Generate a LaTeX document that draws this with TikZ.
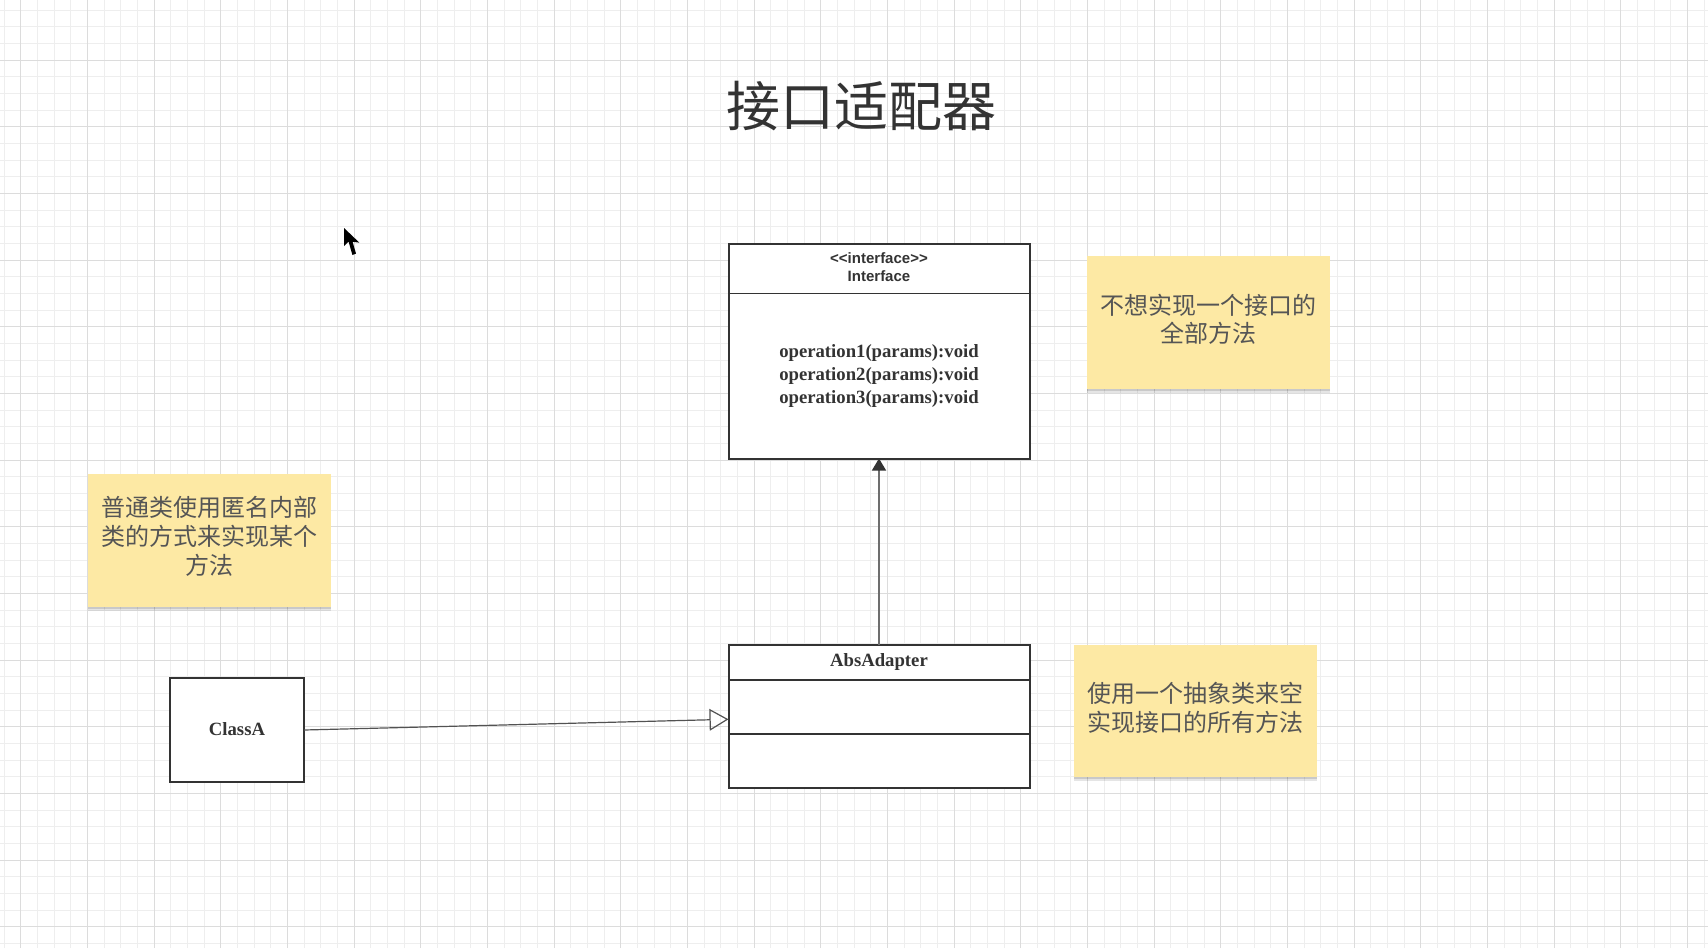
\documentclass[tikz,border=0pt]{standalone}
\usepackage{fontspec}
\setmainfont{Liberation Serif}
\newfontfamily\cjk{Noto Sans CJK SC}
\newfontfamily\arialf{Liberation Sans}
\usetikzlibrary{arrows.meta,shadows}
\definecolor{gridminor}{RGB}{238,238,238}
\definecolor{gridmajor}{RGB}{220,220,220}
\definecolor{notefill}{RGB}{253,233,164}
\definecolor{boxline}{RGB}{51,51,51}
\definecolor{txt}{RGB}{51,51,51}
\definecolor{notetxt}{RGB}{85,85,85}
\definecolor{connline}{RGB}{110,110,110}
\begin{document}
\begin{tikzpicture}[x=1pt,y=-1pt,
  umlbox/.style={draw=boxline, line width=2pt, fill=white, inner sep=0pt, outer sep=0pt},
  divider/.style={draw=boxline, line width=1.6pt},
  serifbold/.style={font=\bfseries\fontsize{18.7}{22.7}\selectfont, text=txt, align=center, inner sep=0pt},
  stickynote/.style={fill=notefill, draw=none, inner sep=0pt, outer sep=0pt,
     drop shadow={shadow xshift=0pt, shadow yshift=-4pt, opacity=0.10, fill=black},
     drop shadow={shadow xshift=0pt, shadow yshift=-2pt, opacity=0.12, fill=black}},
  notetext/.style={font=\cjk\fontsize{24}{28.7}\selectfont, text=notetxt, align=center, inner sep=0pt},
  conn/.style={draw=connline, line width=1.3pt}
]
\useasboundingbox (0,0) rectangle (1708,948);
\fill[white] (0,0) rectangle (1708,948);
% grid
\foreach \i in {0,...,102} \draw[gridminor, line width=1pt] ({4.03+\i*16.667},0) -- ({4.03+\i*16.667},948);
\foreach \j in {0,...,56} \draw[gridminor, line width=1pt] (0,{10.3+\j*16.667}) -- (1708,{10.3+\j*16.667});
\foreach \i in {0,...,25} \draw[gridmajor, line width=1pt] ({20.7+\i*66.667},0) -- ({20.7+\i*66.667},948);
\foreach \j in {0,...,13} \draw[gridmajor, line width=1pt] (0,{60.3+\j*66.667}) -- (1708,{60.3+\j*66.667});

% title
\node[font=\cjk\fontsize{54}{60}\selectfont, text=txt, inner sep=0pt] (title) at (861,106) {接口适配器};

% interface box
\node[umlbox, minimum width=301pt, minimum height=214.5pt] (iface) at (879,351.25) {};
\draw[divider] (728.5,293.5) -- (1029.5,293.5);
\node[font=\arialf\bfseries\fontsize{15}{17}\selectfont, text=txt, inner sep=0pt] (stereo) at (879,258.5) {<<interface>>};
\node[font=\arialf\bfseries\fontsize{15}{17}\selectfont, text=txt, inner sep=0pt] (ifname) at (879,276) {Interface};
\node[serifbold] (ops) at (879,376) {operation1(params):void\\operation2(params):void\\operation3(params):void};

% AbsAdapter box
\node[umlbox, minimum width=301pt, minimum height=142.5pt] (abs) at (879,716.25) {};
\draw[divider] (728.5,680) -- (1029.5,680);
\draw[divider] (728.5,734) -- (1029.5,734);
\node[serifbold] (absname) at (879,662) {AbsAdapter};

% ClassA box
\node[umlbox, minimum width=134pt, minimum height=104.5pt] (classA) at (237,730) {};
\node[serifbold] (classAname) at (237,729.5) {ClassA};

% sticky notes
\node[stickynote, minimum width=243pt, minimum height=133pt] (note1) at (1208.3,322.8) {};
\node[notetext] (note1t) at ([yshift=3.5pt]note1.center) {不想实现一个接口的\\全部方法};
\node[stickynote, minimum width=243pt, minimum height=132.5pt] (note2) at (209,540.3) {};
\node[notetext] (note2t) at ([yshift=4pt]note2.center) {普通类使用匿名内部\\类的方式来实现某个\\方法};
\node[stickynote, minimum width=242.5pt, minimum height=132.5pt] (note3) at (1195.3,711.2) {};
\node[notetext] (note3t) at ([yshift=3.5pt]note3.center) {使用一个抽象类来空\\实现接口的所有方法};

% connectors
\coordinate (absin) at (728.5,719.3);
\draw[conn, -{Triangle[length=12pt,width=14pt,color=boxline]}] (abs.north) -- (iface.south);
\draw[draw=boxline!85, line width=1.2pt, -{Triangle[open,length=19pt,width=21.7pt]}] (classA.east) -- (absin);

% mouse cursor
\fill[black] (344,228) -- (344,246) -- (348.6,241.6) -- (352.4,255) -- (356,253.6) -- (352.6,241.8) -- (359.3,242.6) -- cycle;
\end{tikzpicture}
\end{document}
